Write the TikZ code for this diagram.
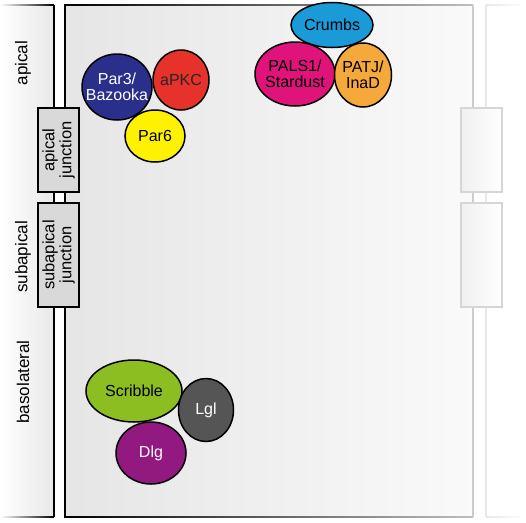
\documentclass[tikz,border=0pt]{standalone}
\usepackage{fontspec}
\setmainfont{Liberation Sans}
\usetikzlibrary{shapes.geometric}
\definecolor{navyP}{HTML}{2B2F8C}
\definecolor{redP}{HTML}{E6322B}
\definecolor{yelP}{HTML}{FFF200}
\definecolor{bluP}{HTML}{1A9AD7}
\definecolor{magP}{HTML}{DF1379}
\definecolor{oraP}{HTML}{F6A93B}
\definecolor{greP}{HTML}{8CBE22}
\definecolor{lglP}{HTML}{555555}
\definecolor{purP}{HTML}{92197F}
\tikzset{
  prot/.style={ellipse, draw=black, line width=1.5pt, inner sep=-12pt, align=center,
    font=\fontsize{16}{16.5}\selectfont},
  jbox/.style={draw=black, line width=1.4pt, fill=black!15, align=center, inner sep=0pt,
    font=\fontsize{16.5}{17}\selectfont},
  fbox/.style={draw=black!16, line width=1.4pt, left color=black!6, right color=white, inner sep=0pt},
  side/.style={font=\fontsize{17}{17}\selectfont, rotate=90},
  cellline/.style={line width=1.4pt}
}
\begin{document}
\begin{tikzpicture}[x=1pt,y=-1pt]
\useasboundingbox (0,0) rectangle (526,522);
% left cell
\shade[left color=white, right color=black!9] (0,5) rectangle (54,517);
\shade[left color=white, right color=black] (0,4.3) rectangle (54,5.7);
\shade[left color=white, right color=black] (0,516.3) rectangle (54,517.7);
\draw[cellline] (54,5) -- (54,517);
% main cell
\shade[left color=black!10, right color=black!2] (65,5) rectangle (473,517);
\shade[left color=black, right color=black!25] (65,4.3) rectangle (473,5.7);
\shade[left color=black, right color=black!25] (65,516.3) rectangle (473,517.7);
\draw[cellline] (65,4.3) -- (65,517.7);
\draw[cellline, black!20] (473,5) -- (473,517);
% right cell
\draw[cellline, black!9] (486,5) -- (486,517);
\shade[left color=black!9, right color=white] (486,4.3) rectangle (526,5.7);
\shade[left color=black!9, right color=white] (486,516.3) rectangle (526,517.7);
% junctions
\node[jbox, minimum width=84pt, minimum height=41pt, rotate=90] (aj) at (58.5,150) {apical\\junction};
\node[jbox, minimum width=104pt, minimum height=41pt, rotate=90] (sj) at (58.5,255) {subapical\\junction};
\node[fbox, minimum width=41pt, minimum height=84pt] (raj) at (481.5,150) {};
\node[fbox, minimum width=41pt, minimum height=104pt] (rsj) at (481.5,255) {};
% side labels
\node[side] (lap) at (23,63) {apical};
\node[side] (lsub) at (23,257) {subapical};
\node[side] (lbas) at (23,382) {basolateral};
% proteins
\node[prot, fill=redP, minimum width=56pt, minimum height=60pt, text=black!85] (apkc) at (181,80) {aPKC};
\node[prot, fill=navyP, minimum width=70pt, minimum height=66pt, text=white] (par3) at (117,87) {Par3/\\Bazooka};
\node[prot, fill=yelP, minimum width=60pt, minimum height=52pt] (par6) at (155,136) {Par6};
\node[prot, fill=bluP, minimum width=82pt, minimum height=45pt] (crumbs) at (332,25) {Crumbs};
\node[prot, fill=magP, minimum width=80pt, minimum height=64pt] (pals) at (295,74) {PALS1/\\Stardust};
\node[prot, fill=oraP, minimum width=57pt, minimum height=64pt] (patj) at (363,75) {PATJ/\\InaD};
\node[prot, fill=greP, minimum width=96pt, minimum height=62pt] (scrib) at (134,391) {Scribble};
\node[prot, fill=lglP, minimum width=55pt, minimum height=63pt, text=white] (lgl) at (206,410) {Lgl};
\node[prot, fill=purP, minimum width=70pt, minimum height=62pt, text=white] (dlg) at (151,453) {Dlg};
\end{tikzpicture}
\end{document}
